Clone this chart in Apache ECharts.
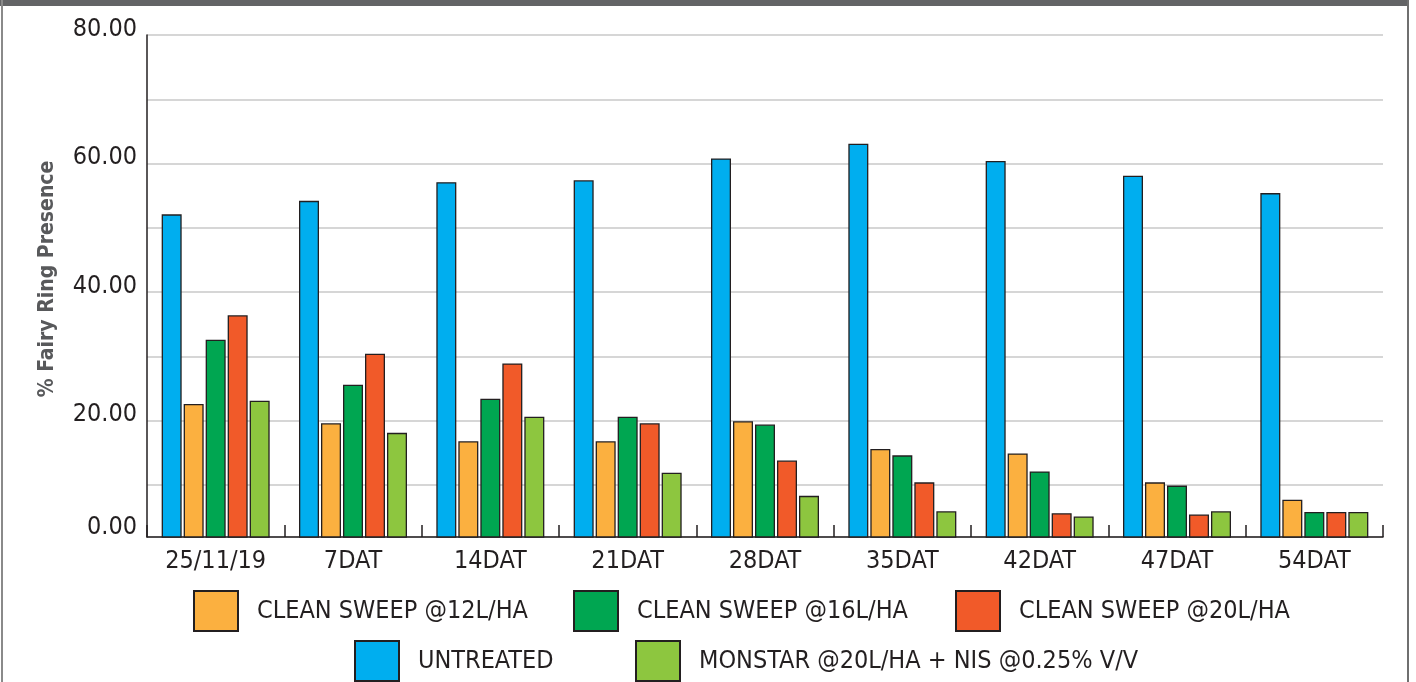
<!DOCTYPE html>
<html>
<head>
<meta charset="utf-8">
<script src="https://cdn.jsdelivr.net/npm/echarts@6/dist/echarts.min.js"></script>
<style>
  html, body { margin: 0; padding: 0; background: #ffffff; }
  #wrap { position: relative; width: 1416px; height: 682px; overflow: hidden; }
  #chart { position: absolute; left: 0; top: 0; width: 1416px; height: 682px; }
  #topbar { position: absolute; left: 0; top: 0; width: 1409px; height: 6px; background: #636466; z-index: 2; }
  #lborder { position: absolute; left: 1px; top: 0; width: 2px; height: 682px; background: #8a8a8a; z-index: 2; }
  #rborder { position: absolute; left: 1407px; top: 0; width: 2px; height: 682px; background: #6f6f6f; z-index: 2; }
</style>
</head>
<body>
<div id="wrap">
  <div id="chart"></div>
  <div id="topbar"></div>
  <div id="lborder"></div>
  <div id="rborder"></div>
</div>
<script>
const categories = ['25/11/19', '7DAT', '14DAT', '21DAT', '28DAT', '35DAT', '42DAT', '47DAT', '54DAT'];
const untreated = [52.1, 54.2, 57.1, 57.4, 60.8, 63.1, 60.4, 58.1, 55.4];
const cs12 = [22.6, 19.6, 16.8, 16.8, 19.9, 15.6, 14.9, 10.4, 7.7];
const cs16 = [32.6, 25.6, 23.4, 20.6, 19.4, 14.6, 12.1, 9.9, 5.8];
const cs20 = [36.4, 30.4, 28.9, 19.6, 13.8, 10.4, 5.6, 5.4, 5.8];
const monstar = [23.1, 18.1, 20.6, 11.9, 8.3, 5.9, 5.1, 5.9, 5.8];
const seriesNames = ['UNTREATED', 'CLEAN SWEEP @12L/HA', 'CLEAN SWEEP @16L/HA', 'CLEAN SWEEP @20L/HA', 'MONSTAR @20L/HA + NIS @0.25% V/V'];
const seriesColors = ['#00aeef', '#fbb040', '#00a651', '#f15a29', '#8dc63f'];
const seriesData = [untreated, cs12, cs16, cs20, monstar];
const yMin = 1.9, yMax = 80;

const FONT = '"Liberation Sans Narrow", "DejaVu Sans Condensed", "Arial Narrow", sans-serif';
const INK = '#231f20';

const chart = echarts.init(document.getElementById('chart'), null, { renderer: 'canvas' });

const series = seriesNames.map((name, i) => ({
  name: name,
  type: 'bar',
  data: seriesData[i],
  barWidth: 20,
  barGap: '10%',
  itemStyle: { color: seriesColors[i], borderColor: INK, borderWidth: 1.3 },
  emphasis: { disabled: true }
}));

function legendAt(name, left, top) {
  return {
    show: true,
    data: [name],
    left: left,
    top: top,
    padding: 0,
    itemWidth: 44,
    itemHeight: 40,
    icon: 'rect',
    selectedMode: false,
    textStyle: { fontFamily: FONT, fontSize: 25, color: INK, padding: [0, 0, 0, 14] }
  };
}

const option = {
  animation: false,
  backgroundColor: '#ffffff',
  grid: { left: 147, right: 33, top: 35, bottom: 145, containLabel: false },
  legend: [
    legendAt(seriesNames[1], 193, 590),
    legendAt(seriesNames[2], 573, 590),
    legendAt(seriesNames[3], 955, 590),
    legendAt(seriesNames[0], 354, 640),
    legendAt(seriesNames[4], 635, 640)
  ],
  xAxis: {
    type: 'category',
    data: categories,
    boundaryGap: true,
    axisLine: { show: true, lineStyle: { color: INK, width: 1.5 } },
    axisTick: { show: true, inside: true, length: 12, alignWithLabel: false, lineStyle: { color: INK, width: 1.5 } },
    axisLabel: { interval: 0, fontFamily: FONT, fontSize: 25, color: INK, margin: 12 },
    splitLine: { show: false }
  },
  yAxis: {
    type: 'value',
    min: yMin,
    max: yMax,
    splitNumber: 8,
    name: '% Fairy Ring Presence',
    nameLocation: 'middle',
    nameGap: 89,
    nameRotate: 90,
    nameTextStyle: { fontFamily: FONT, fontSize: 21, fontWeight: 'bold', color: '#58595b', padding: [0, 0, 0, 14] },
    axisLine: { show: true, lineStyle: { color: INK, width: 1.5 } },
    axisTick: { show: false },
    axisLabel: {
      fontFamily: FONT, fontSize: 25, color: INK, margin: 10,
      padding: [0, 0, 12, 0],
      formatter: function (v) {
        if (v < 5) return '{z|0.00}';
        if (Math.round(v) % 20 === 0) return v.toFixed(2);
        return '';
      },
      rich: {
        z: { fontFamily: FONT, fontSize: 25, color: INK, padding: [0, 0, 8, 0] }
      }
    },
    splitLine: { show: true, lineStyle: { color: '#c8c8c8', width: 1.5 } }
  },
  series: series
};

chart.setOption(option);
</script>
</body>
</html>
